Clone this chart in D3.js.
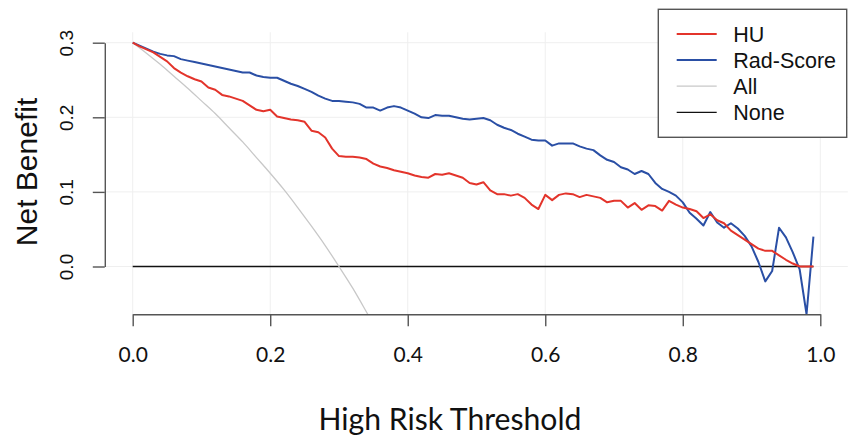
<!DOCTYPE html>
<html>
<head>
<meta charset="utf-8">
<script src="https://cdn.jsdelivr.net/npm/d3@7/dist/d3.min.js"></script>
<style>
  html, body { margin: 0; padding: 0; background: #fff; }
  svg { display: block; }
</style>
</head>
<body>
<svg id="chart" width="850" height="442"></svg>
<script>
// thresholds 0.00 .. 0.99
var thresholds = d3.range(100).map(function(i){ return i / 100; });

var huValues = [
  0.300,0.295,0.291,0.287,0.281,0.275,0.266,0.260,0.255,0.251,
  0.248,0.240,0.237,0.230,0.228,0.225,0.222,0.216,0.210,0.208,
  0.210,0.201,0.199,0.197,0.196,0.194,0.182,0.180,0.173,0.158,
  0.148,0.147,0.147,0.146,0.144,0.138,0.134,0.132,0.129,0.127,
  0.125,0.122,0.120,0.119,0.124,0.123,0.125,0.122,0.119,0.112,
  0.110,0.113,0.102,0.097,0.097,0.095,0.097,0.092,0.083,0.077,
  0.096,0.089,0.096,0.098,0.097,0.093,0.096,0.094,0.092,0.086,
  0.088,0.088,0.079,0.085,0.076,0.082,0.081,0.075,0.088,0.083,
  0.079,0.077,0.074,0.065,0.070,0.062,0.058,0.048,0.042,0.036,
  0.030,0.024,0.021,0.021,0.015,0.009,0.004,0.000,0.000,0.000
];

var radValues = [
  0.300,0.296,0.292,0.288,0.285,0.283,0.282,0.278,0.276,0.274,
  0.272,0.270,0.268,0.266,0.264,0.262,0.260,0.260,0.256,0.254,
  0.253,0.253,0.249,0.245,0.242,0.238,0.234,0.229,0.225,0.222,
  0.222,0.221,0.220,0.218,0.213,0.213,0.209,0.213,0.215,0.213,
  0.209,0.205,0.200,0.199,0.203,0.202,0.202,0.200,0.198,0.197,
  0.198,0.199,0.196,0.190,0.186,0.183,0.178,0.174,0.170,0.169,
  0.169,0.162,0.165,0.165,0.165,0.161,0.158,0.156,0.149,0.143,
  0.140,0.133,0.130,0.124,0.128,0.124,0.112,0.104,0.100,0.095,
  0.086,0.072,0.064,0.055,0.073,0.059,0.052,0.058,0.051,0.041,
  0.027,0.006,-0.020,-0.006,0.052,0.039,0.019,-0.004,-0.064,0.040
];

// "All" strategy, read at 0.02 steps (leaves the plot below -0.06)
var allThresholds = [0,0.02,0.04,0.06,0.08,0.10,0.12,0.14,0.16,0.18,0.20,0.22,0.24,0.26,0.28,0.30,0.32,0.34,0.36];
var allValues = [0.300,0.286,0.271,0.255,0.239,0.222,0.205,0.186,0.167,0.146,0.125,0.103,0.079,0.054,0.028,0.000,-0.029,-0.061,-0.094];

var noneThresholds = [0, 0.99];
var noneValues = [0, 0];

var xTicks = [0, 0.2, 0.4, 0.6, 0.8, 1.0];
var yTicks = [0, 0.1, 0.2, 0.3];

var legendNames = ["HU", "Rad-Score", "All", "None"];
var legendColors = ["#e3342b", "#2a4fa5", "#c8c8c8", "#111111"];
var legendWidths = [2, 2, 1.3, 1.3];

var svg = d3.select("#chart");

var x = d3.scaleLinear().domain([0, 1]).range([132.7, 820.3]);
var y = d3.scaleLinear().domain([0, 0.3]).range([266.5, 42.7]);

// plot region (R usr with 4% padding, ylim -0.05..0.3)
var px0 = x(-0.04), px1 = x(1.04);
var py0 = y(0.3 + 0.014), py1 = y(-0.05 - 0.014);

svg.append("clipPath").attr("id","plotclip")
  .append("rect")
  .attr("x", px0).attr("y", py0)
  .attr("width", px1 - px0).attr("height", py1 - py0);

// faint grid
var grid = svg.append("g").attr("class","grid");
yTicks.forEach(function(t){
  grid.append("line")
    .attr("x1", px0).attr("x2", px1)
    .attr("y1", y(t)).attr("y2", y(t))
    .attr("stroke", "#efefef").attr("stroke-width", 1);
});
xTicks.forEach(function(t){
  grid.append("line")
    .attr("x1", x(t)).attr("x2", x(t))
    .attr("y1", py0).attr("y2", py1)
    .attr("stroke", "#efefef").attr("stroke-width", 1);
});

var plot = svg.append("g").attr("clip-path", "url(#plotclip)");

var line = d3.line()
  .x(function(d){ return x(d[0]); })
  .y(function(d){ return y(d[1]); });

// None
plot.append("path")
  .datum(d3.zip(noneThresholds, noneValues))
  .attr("d", line)
  .attr("fill","none").attr("stroke", legendColors[3]).attr("stroke-width", legendWidths[3]);

// All
plot.append("path")
  .datum(d3.zip(allThresholds, allValues))
  .attr("d", line.curve(d3.curveMonotoneX))
  .attr("fill","none").attr("stroke", legendColors[2]).attr("stroke-width", legendWidths[2]);
line.curve(d3.curveLinear);

// Rad-Score
plot.append("path")
  .datum(d3.zip(thresholds, radValues))
  .attr("d", line)
  .attr("fill","none").attr("stroke", legendColors[1]).attr("stroke-width", legendWidths[1])
  .attr("stroke-linejoin","round");

// HU
plot.append("path")
  .datum(d3.zip(thresholds, huValues))
  .attr("d", line)
  .attr("fill","none").attr("stroke", legendColors[0]).attr("stroke-width", legendWidths[0])
  .attr("stroke-linejoin","round");

// x axis
var xAxis = svg.append("g")
  .attr("transform", "translate(0," + py1 + ")")
  .call(d3.axisBottom(x).tickValues(xTicks).tickSize(12).tickSizeOuter(0)
        .tickFormat(d3.format(".1f")));
xAxis.select(".domain").attr("stroke", "#555").attr("stroke-width", 1.4);
xAxis.selectAll(".tick line").attr("stroke", "#555").attr("stroke-width", 1.4);
xAxis.selectAll(".tick text")
  .attr("y", 48).attr("dy", null)
  .attr("fill", "#111")
  .style("font-family", "Lato, 'Open Sans', sans-serif")
  .style("font-size", "21px");

// y axis
var yAxis = svg.append("g")
  .attr("transform", "translate(" + (px0 - 0.4) + ",0)")
  .call(d3.axisLeft(y).tickValues(yTicks).tickSize(12).tickSizeOuter(0)
        .tickFormat(d3.format(".1f")));
yAxis.select(".domain").attr("stroke", "#555").attr("stroke-width", 1.4);
yAxis.selectAll(".tick line").attr("stroke", "#555").attr("stroke-width", 1.4);
yAxis.selectAll(".tick text")
  .attr("x", null).attr("dy", null)
  .attr("transform", "translate(-31.5,0) rotate(-90)")
  .attr("text-anchor", "middle")
  .attr("fill", "#111")
  .style("font-family", "'Liberation Sans', Arial, sans-serif")
  .style("font-size", "19px");

// axis titles
var xTitle = svg.append("text")
  .attr("x", 450).attr("y", 429.5)
  .attr("text-anchor", "middle")
  .attr("fill", "#111")
  .style("font-family", "Lato, 'Open Sans', sans-serif")
  .style("font-size", "30px")
  .text("High Risk Threshold");
// fit the title to the width it takes in the reference
var w = xTitle.node().getComputedTextLength();
if (w > 0) xTitle.style("font-size", (30 * 263 / w) + "px");

svg.append("text")
  .attr("transform", "translate(36.5,172) rotate(-90)")
  .attr("text-anchor", "middle")
  .attr("fill", "#111")
  .style("font-family", "'Liberation Sans', Arial, sans-serif")
  .style("font-size", "30px")
  .text("Net Benefit");

// legend
var legend = svg.append("g").attr("class","legend");
legend.append("rect")
  .attr("x", 658.3).attr("y", 9.3)
  .attr("width", 188.4).attr("height", 128)
  .attr("fill", "#fff").attr("stroke", "#555").attr("stroke-width", 1.4);

legendNames.forEach(function(name, i){
  var ly = 34 + i * 26.1;
  legend.append("line")
    .attr("x1", 676.7).attr("x2", 716.7)
    .attr("y1", ly).attr("y2", ly)
    .attr("stroke", legendColors[i]).attr("stroke-width", legendWidths[i]);
  legend.append("text")
    .attr("x", 733.3).attr("y", ly + 7.8)
    .attr("fill", "#111")
    .style("font-family", "'Liberation Sans', Arial, sans-serif")
    .style("font-size", "21.5px")
    .text(name);
});
</script>
</body>
</html>
